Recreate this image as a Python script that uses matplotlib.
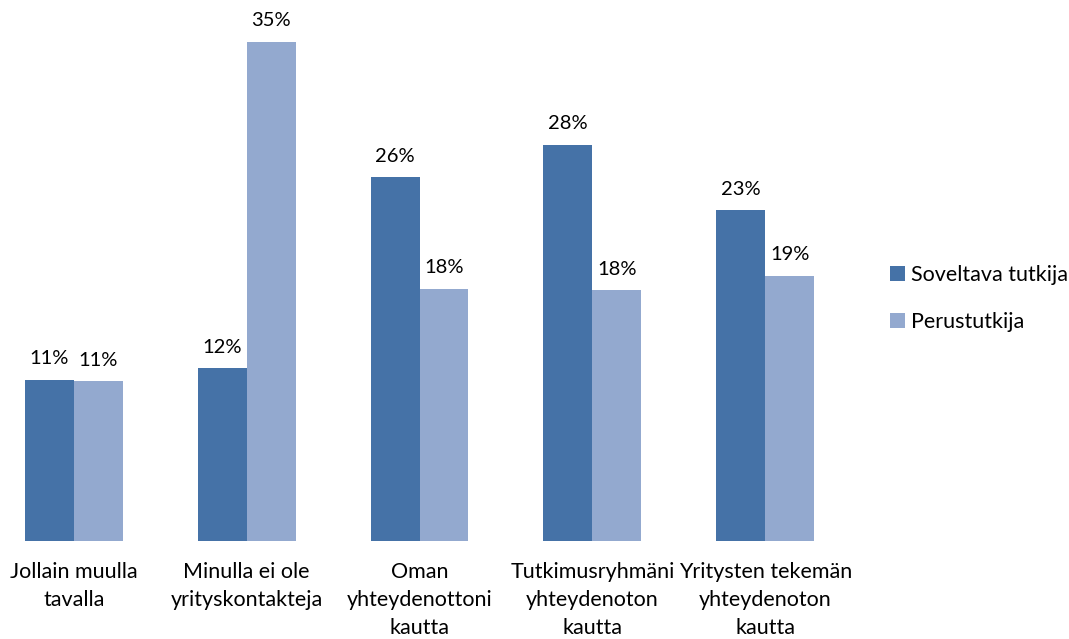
import matplotlib
matplotlib.use("Agg")
import matplotlib.pyplot as plt
import numpy as np

categories = ["Jollain muulla\ntavalla", "Minulla ei ole\nyrityskontakteja",
              "Oman\nyhteydenottoni\nkautta", "Tutkimusryhmäni\nyhteydenoton\nkautta",
              "Yritysten tekemän\nyhteydenoton\nkautta"]
series_names = ["Soveltava tutkija", "Perustutkija"]
soveltava = [11.3, 12.1, 25.5, 27.8, 23.2]
perus = [11.2, 35.0, 17.7, 17.6, 18.6]
colors = ["#4572A7", "#93A9CF"]

plt.rcParams['font.family'] = ['Lato', 'DejaVu Sans']

fig = plt.figure(figsize=(10.69, 6.39), dpi=100)
ax = fig.add_axes([0.0, 1 - 541/639, 0.7966, 541/639])
x = np.arange(len(categories))
w = 49/173
b1 = ax.bar(x - w/2, soveltava, w, color=colors[0], label=series_names[0])
b2 = ax.bar(x + w/2, perus, w, color=colors[1], label=series_names[1])
for bars, vals in ((b1, soveltava), (b2, perus)):
    for bar, v in zip(bars, vals):
        ax.annotate(f"{round(v):d}%", (bar.get_x() + bar.get_width()/2, bar.get_height()),
                    xytext=(0, 9), textcoords="offset points", ha="center", va="bottom",
                    fontsize=14.5, color="black")
ax.set_xlim(-0.5 + 12.5/173, 4.5)
ax.set_ylim(0, 541/14.26)
for s in ax.spines.values():
    s.set_visible(False)
ax.set_yticks([])
ax.set_xticks(x)
ax.set_xticklabels(categories, fontsize=15.5, linespacing=1.5)
ax.tick_params(axis='x', length=0, pad=15)
ax.legend(loc="center left", bbox_to_anchor=(1.022, 0.448), frameon=False, fontsize=15.5,
          handlelength=0.7, handleheight=0.7, handletextpad=0.3, labelspacing=1.25)
fig.savefig("out.png", dpi=100)
